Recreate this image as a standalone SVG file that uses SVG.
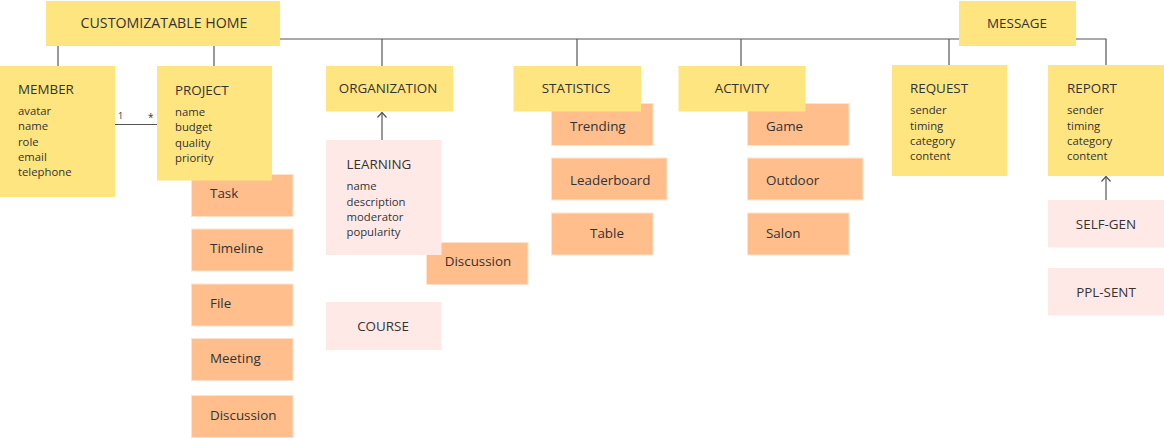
<svg xmlns="http://www.w3.org/2000/svg" width="1164" height="438" viewBox="0 0 1164 438">
<style>
text{font-family:"Open Sans","Noto Sans","Liberation Sans",sans-serif;fill:#333}
.y{fill:#ffe57f}
.o{fill:#ffbe8c;stroke:#ffe3cc;stroke-width:1}
.p{fill:#ffe9e7}
.t{font-size:13.4px}
.a{font-size:11.3px}
.c{text-anchor:middle}
.ln{stroke:#555;stroke-width:1.2;fill:none}
</style>
<g id="connectors">
<path class="ln" d="M280,39 H959"/>
<path class="ln" d="M1076,39 H1106 V65"/>
<path class="ln" d="M58,46 V66"/>
<path class="ln" d="M214,46 V66"/>
<path class="ln" d="M382,39 V66"/>
<path class="ln" d="M577,39 V66"/>
<path class="ln" d="M741,39 V66"/>
<path class="ln" d="M949,39 V65"/>
<path class="ln" d="M115,124.5 H157"/>
<text x="118" y="119" style="font-size:9px">1</text>
<text x="148" y="121" style="font-size:10px">*</text>
<path class="ln" d="M382,140 V112.5"/>
<path class="ln" d="M377.5,117.5 L382,112.5 L386.5,117.5"/>
<path class="ln" d="M1106,200 V176.5"/>
<path class="ln" d="M1101.5,181.5 L1106,176.5 L1110.5,181.5"/>
</g>
<g id="home"><rect class="y" x="46" y="1" width="234" height="45"/><text class="t c" x="164" y="28" style="font-size:14.2px">CUSTOMIZATABLE HOME</text></g>
<g id="message"><rect class="y" x="959" y="1" width="117" height="45"/><text class="t c" x="1017" y="28">MESSAGE</text></g>
<g id="member"><rect class="y" x="0" y="66" width="115" height="131"/>
<text class="t" x="18" y="94">MEMBER</text>
<text class="a" x="18" y="115">avatar</text><text class="a" x="18" y="130">name</text><text class="a" x="18" y="146">role</text><text class="a" x="18" y="161">email</text><text class="a" x="18" y="176">telephone</text></g>
<g id="task"><rect class="o" x="191.5" y="174.5" width="101.5" height="42"/><text class="t" x="210" y="198">Task</text></g>
<g id="project"><rect class="y" x="157" y="66" width="115" height="114.5"/>
<text class="t" x="175" y="95">PROJECT</text>
<text class="a" x="175" y="116">name</text><text class="a" x="175" y="131">budget</text><text class="a" x="175" y="147">quality</text><text class="a" x="175" y="162">priority</text></g>
<g id="timeline"><rect class="o" x="191.5" y="229" width="101.5" height="42"/><text class="t" x="210" y="253">Timeline</text></g>
<g id="file"><rect class="o" x="191.5" y="284" width="101.5" height="42"/><text class="t" x="210" y="308">File</text></g>
<g id="meeting"><rect class="o" x="191.5" y="338.5" width="101.5" height="42"/><text class="t" x="210" y="362.5">Meeting</text></g>
<g id="discussion1"><rect class="o" x="191.5" y="395.5" width="101.5" height="42"/><text class="t" x="210" y="419.5">Discussion</text></g>
<g id="organization"><rect class="y" x="326" y="66" width="127" height="45.5"/><text class="t c" x="388" y="93">ORGANIZATION</text></g>
<g id="discussion2"><rect class="o" x="426.5" y="242.5" width="101.5" height="42"/><text class="t c" x="478" y="266">Discussion</text></g>
<g id="learning"><rect class="p" x="326" y="140" width="115.5" height="115"/>
<text class="t" x="346.5" y="169">LEARNING</text>
<text class="a" x="346.5" y="190">name</text><text class="a" x="346.5" y="205.5">description</text><text class="a" x="346.5" y="221">moderator</text><text class="a" x="346.5" y="236">popularity</text></g>
<g id="course"><rect class="p" x="326" y="302" width="115.5" height="48"/><text class="t c" x="383" y="331">COURSE</text></g>
<g id="trending"><rect class="o" x="551.5" y="103.5" width="101.5" height="42"/><text class="t" x="570" y="130.5">Trending</text></g>
<g id="statistics"><rect class="y" x="513.5" y="66" width="127.5" height="45.5"/><text class="t c" x="576" y="93">STATISTICS</text></g>
<g id="leaderboard"><rect class="o" x="551.5" y="158" width="115.5" height="42"/><text class="t" x="570" y="184.5">Leaderboard</text></g>
<g id="table"><rect class="o" x="551.5" y="213" width="101.5" height="42"/><text class="t" x="590" y="238">Table</text></g>
<g id="game"><rect class="o" x="747.5" y="103.5" width="101.5" height="42"/><text class="t" x="766" y="130.5">Game</text></g>
<g id="activity"><rect class="y" x="678.5" y="66" width="127" height="45.5"/><text class="t c" x="742" y="93">ACTIVITY</text></g>
<g id="outdoor"><rect class="o" x="747.5" y="158" width="115.5" height="42"/><text class="t" x="766" y="184.5">Outdoor</text></g>
<g id="salon"><rect class="o" x="747.5" y="213" width="101.5" height="42"/><text class="t" x="766" y="238">Salon</text></g>
<g id="request"><rect class="y" x="892" y="65" width="115" height="111"/>
<text class="t" x="910" y="93">REQUEST</text>
<text class="a" x="910" y="114">sender</text><text class="a" x="910" y="130">timing</text><text class="a" x="910" y="145">category</text><text class="a" x="910" y="160">content</text></g>
<g id="report"><rect class="y" x="1048" y="65" width="116" height="111"/>
<text class="t" x="1067" y="93">REPORT</text>
<text class="a" x="1067" y="114">sender</text><text class="a" x="1067" y="130">timing</text><text class="a" x="1067" y="145">category</text><text class="a" x="1067" y="160">content</text></g>
<g id="selfgen"><rect class="p" x="1048" y="200" width="116" height="47.5"/><text class="t c" x="1106" y="228.5">SELF-GEN</text></g>
<g id="pplsent"><rect class="p" x="1048" y="268" width="116" height="47.5"/><text class="t c" x="1106" y="296.5">PPL-SENT</text></g>
</svg>
